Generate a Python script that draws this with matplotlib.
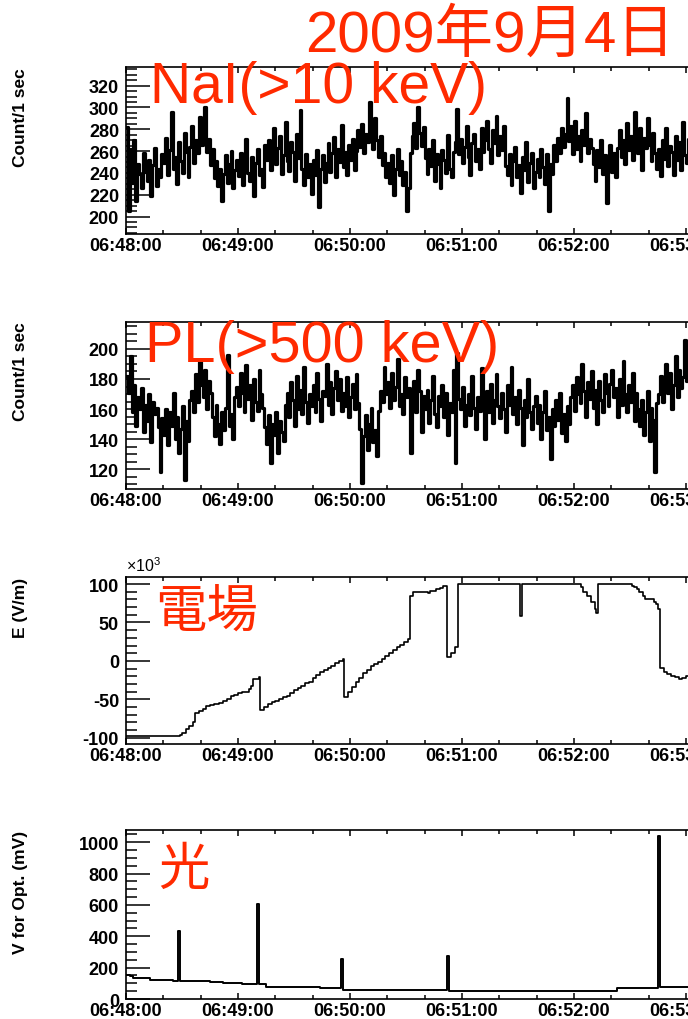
import matplotlib
matplotlib.use("Agg")
import matplotlib.pyplot as plt
from matplotlib.ticker import MultipleLocator, FuncFormatter

plt.rcParams["font.family"] = ["Liberation Sans", "Noto Sans CJK JP"]
plt.rcParams["mathtext.fontset"] = "custom"
plt.rcParams["mathtext.rm"] = "Liberation Sans"
plt.rcParams["axes.unicode_minus"] = False

# --- data: seconds after 06:48:00 ---
nai_counts = [
    282, 205, 262, 231, 270, 214, 248, 239, 226, 258, 241, 233, 252, 219, 247, 263, 228, 244, 236, 257,
    249, 272, 238, 261, 296, 244, 255, 230, 268, 251, 240, 277, 259, 236, 264, 283, 249, 270, 258, 291,
    266, 278, 300, 259, 271, 247, 262, 235, 251, 228, 244, 214, 239, 256, 231, 248, 260, 226, 243, 252,
    237, 258, 229, 246, 271, 240, 233, 255, 219, 249, 262, 238, 244, 227, 266, 252, 270, 243, 259, 281,
    248, 263, 274, 239, 256, 287, 251, 242, 268, 259, 233, 276, 254, 298, 244, 229, 257, 236, 248, 221,
    252, 238, 261, 209, 244, 256, 232, 249, 267, 241, 258, 273, 236, 262, 250, 284, 245, 259, 238, 266,
    252, 271, 243, 260, 279, 264, 285, 258, 276, 268, 305, 281, 262, 290, 270, 255, 274, 247, 258, 236,
    249, 231, 256, 220, 244, 262, 238, 251, 229, 241, 205, 226, 258, 274, 286, 263, 300, 277, 265, 282,
    254, 239, 262, 246, 270, 233, 257, 248, 226, 261, 252, 240, 275, 244, 236, 259, 268, 299, 257, 271,
    249, 264, 283, 255, 238, 267, 276, 251, 262, 244, 281, 259, 270, 288, 262, 249, 279, 267, 292, 256,
    274, 261, 283, 246, 238, 257, 229, 251, 264, 236, 247, 222, 255, 243, 268, 232, 249, 258, 226, 241,
    253, 236, 262, 245, 230, 257, 205, 248, 239, 266, 251, 272, 258, 281, 264, 276, 309, 269, 283, 257,
    288, 262, 274, 251, 279, 266, 295, 258, 271, 263, 248, 233, 261, 245, 270, 239, 256, 212, 252, 266,
    241, 258, 236, 263, 279, 255, 270, 248, 286, 261, 274, 252, 296, 267, 258, 281, 243, 272, 263, 290,
    266, 251, 277, 258, 244, 262, 237, 270, 253, 281, 246, 265, 259, 238, 274, 252, 268, 243, 287, 256,
    249, 271, 260, 255,
]

pl_counts = [
    182, 171, 195, 158, 176, 149, 168, 160, 174, 145, 163, 152, 170, 138, 165, 157, 161, 148, 118, 154,
    143, 160, 136, 158, 149, 171, 140, 155, 131, 147, 162, 113, 152, 139, 166, 172, 158, 183, 165, 191,
    176, 168, 186, 160, 179, 171, 155, 142, 163, 150, 137, 158, 146, 161, 196, 149, 157, 140, 168, 175,
    162, 184, 171, 158, 189, 167, 176, 153, 180, 165, 159, 186, 170, 161, 148, 137, 156, 124, 150, 143,
    158, 131, 152, 145, 139, 163, 171, 155, 178, 166, 149, 182, 160, 173, 157, 188, 165, 151, 170, 162,
    176, 158, 184, 167, 152, 172, 169, 190, 163, 178, 157, 174, 185, 166, 180, 159, 171, 162, 181, 155,
    168, 177, 160, 183, 164, 147, 111, 142, 156, 133, 150, 161, 138, 146, 129, 159, 172, 165, 188, 170,
    178, 161, 184, 166, 175, 193, 162, 170, 157, 181, 168, 174, 131, 163, 179, 158, 186, 172, 145, 169,
    160, 173, 151, 166, 182, 157, 148, 169, 162, 176, 155, 171, 143, 164, 158, 186, 124, 197, 167, 160,
    175, 149, 163, 170, 156, 182, 161, 147, 168, 159, 187, 165, 140, 172, 158, 177, 151, 166, 183, 162,
    154, 171, 160, 145, 176, 163, 188, 157, 168, 150, 173, 161, 136, 166, 155, 180, 158, 147, 162, 169,
    151, 163, 140, 158, 172, 146, 155, 127, 160, 149, 166, 153, 171, 144, 157, 139, 162, 150, 168, 176,
    159, 181, 170, 164, 190, 172, 155, 178, 167, 185, 161, 173, 150, 179, 166, 158, 183, 171, 162, 177,
    186, 168, 174, 155, 180, 163, 192, 170, 158, 176, 165, 184, 152, 171, 160, 149, 166, 143, 158, 172,
    139, 161, 153, 118, 164, 170, 182, 165, 178, 190, 171, 184, 160, 176, 195, 168, 186, 174, 181, 206,
    179, 188, 172, 183,
]
count_t = [i for i in range(len(nai_counts))]

# electric field (x10^3 V/m), step changes
efield_t = [0, 27, 29, 30, 32, 34, 36, 37, 39, 41, 43, 45, 47, 50, 52, 54, 56, 58, 60, 62,
            64, 66, 67, 68, 71, 72, 74, 76, 78, 80, 82, 84, 86, 88, 90, 92, 94, 96, 98, 100,
            102, 104, 106, 108, 110, 112, 114, 116, 117, 119, 121, 123, 125, 127, 129, 131, 133, 135, 137, 139,
            141, 143, 145, 147, 149, 151, 152, 154, 158, 162, 163, 166, 168, 170, 172, 174, 176, 178, 211, 212,
            244, 245, 247, 249, 251, 252, 253, 271, 272, 274, 275, 277, 278, 280, 283, 284, 285, 286, 288, 290,
            292, 294, 296, 298, 300, 303]
efield_v = [-98, -98, -96, -94, -88, -85, -80, -68, -65, -62, -59, -57, -56, -55, -52, -49, -46, -44, -42, -41,
            -40, -37, -33, -24, -21, -64, -60, -56, -54, -52, -50, -47, -45, -42, -38, -35, -32, -29, -27, -22,
            -18, -15, -12, -9, -6, -3, 0, 3, -47, -40, -34, -27, -22, -16, -12, -7, -4, -1, 3, 6,
            10, 14, 18, 21, 24, 28, 85, 89, 90, 88, 91, 93, 95, 98, 5, 10, 18, 100, 58, 100,
            96, 90, 85, 77, 68, 62, 100, 98, 96, 93, 90, 84, 81, 80, 77, 74, 68, -9, -14, -17,
            -20, -21, -23, -22, -20, -20]

# optical sensor (mV)
opt_t = [0, 2, 4, 13, 25, 28, 29, 45, 52, 62, 70, 71, 75, 104, 115, 116, 172, 173, 263, 285, 286, 303]
opt_v = [155, 145, 134, 121, 113, 436, 113, 108, 101, 95, 606, 95, 79, 70, 255, 60, 277, 49, 68, 1038, 79, 79]

RED = "#ff2a00"
LABEL_FONT = dict(fontsize=12.5, fontweight="bold")


def time_label(s, pos):
    s = int(round(s))
    return f"06:{48 + s // 60:02d}:{s % 60:02d}"


def style_axis(ax, ylim, major, minor, ylabel):
    ax.set_xlim(0, 310)
    ax.set_ylim(*ylim)
    ax.xaxis.set_major_locator(MultipleLocator(60))
    ax.xaxis.set_minor_locator(MultipleLocator(20))
    ax.xaxis.set_major_formatter(FuncFormatter(time_label))
    ax.yaxis.set_major_locator(MultipleLocator(major))
    ax.yaxis.set_minor_locator(MultipleLocator(minor))
    ax.tick_params(axis="x", which="both", direction="in", top=True, bottom=True, width=1.1)
    ax.tick_params(axis="x", which="major", length=4.5, pad=2)
    ax.tick_params(axis="x", which="minor", length=2.8)
    ax.tick_params(axis="y", which="both", direction="in", left=True, right=False, width=1.1)
    ax.tick_params(axis="y", which="major", length=17, pad=5)
    ax.tick_params(axis="y", which="minor", length=8)
    for lab in ax.get_xticklabels() + ax.get_yticklabels():
        lab.set_fontsize(13)
        lab.set_fontweight("bold")
    for sp in ax.spines.values():
        sp.set_linewidth(1.2)
    ax.set_ylabel(ylabel, loc="top", va="center", **LABEL_FONT)
    ax.yaxis.set_label_coords(-0.183, 1.0)


fig = plt.figure(figsize=(6.88, 10.2), dpi=100)
W = 578.7 / 688
L = 126 / 688

ax1 = fig.add_axes([L, 0.7696, W, 0.1637])
ax1.plot([t + 0.5 for t in count_t], nai_counts, drawstyle="steps-mid", color="black", lw=2.3)
style_axis(ax1, (184, 337), 20, 5, "Count/1 sec")

ax2 = fig.add_axes([L, 0.5196, W, 0.1640])
ax2.plot([t + 0.5 for t in count_t], pl_counts, drawstyle="steps-mid", color="black", lw=2.3)
style_axis(ax2, (107, 218), 20, 5, "Count/1 sec")

ax3 = fig.add_axes([L, 0.2696, W, 0.1640])
ax3.plot(efield_t, efield_v, drawstyle="steps-post", color="black", lw=1.2)
style_axis(ax3, (-108, 109.5), 50, 10, "E (V/m)")
ax3.text(0, 1.015, r"$\times$10$^{3}$", transform=ax3.transAxes, fontsize=11.5, va="bottom", ha="left")

ax4 = fig.add_axes([L, 0.0196, W, 0.1657])
ax4.plot(opt_t, opt_v, drawstyle="steps-post", color="black", lw=1.4)
style_axis(ax4, (0, 1078), 200, 50, "V for Opt. (mV)")

# red annotations
red_fam = ["Liberation Sans", "Noto Sans CJK JP"]
fig.text(675 / 688, 1 - 52 / 1020, "2009年9月4日", color=RED, fontsize=42, family=red_fam,
         ha="right", va="baseline")
fig.text(150 / 688, 1 - 103 / 1020, "NaI(>10 keV)", color=RED, fontsize=41, family=red_fam,
         ha="left", va="baseline")
fig.text(145 / 688, 1 - 362 / 1020, "PL(>500 keV)", color=RED, fontsize=41.5, family=red_fam,
         ha="left", va="baseline")
fig.text(155 / 688, 1 - 612 / 1020, "電場", color=RED, fontsize=37, family=["Noto Sans CJK JP"],
         ha="left", va="center")
fig.text(158 / 688, 1 - 870 / 1020, "光", color=RED, fontsize=37, family=["Noto Sans CJK JP"],
         ha="left", va="center")

fig.savefig("out.png", dpi=100)
